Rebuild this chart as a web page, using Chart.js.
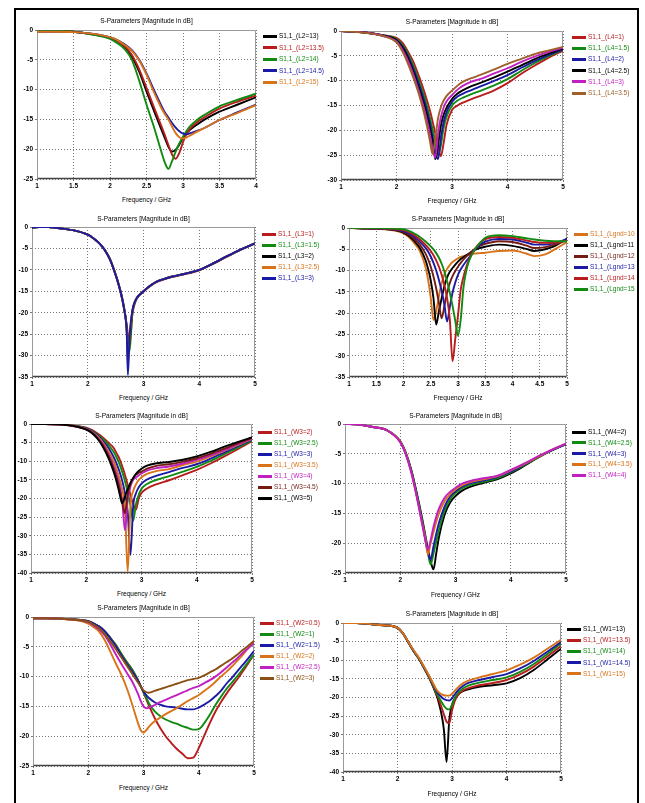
<!DOCTYPE html>
<html><head><meta charset="utf-8">
<script src="https://cdn.jsdelivr.net/npm/chart.js@4.4.1/dist/chart.umd.min.js"></script>
<style>
html,body{margin:0;padding:0;background:#fff;}
body{width:645px;height:803px;position:relative;overflow:hidden;font-family:'Liberation Sans',Arial,sans-serif;}
#frame{position:absolute;left:14px;top:8px;width:621px;height:800px;border:2px solid #000;}
canvas{position:absolute;}
.t{position:absolute;white-space:nowrap;transform:translate(-50%,-50%);font-size:6.5px;color:#000;}
.lg{position:absolute;white-space:nowrap;font-size:6.5px;line-height:8px;transform:translateY(-50%);display:flex;align-items:center;}
.lg i{display:inline-block;width:14px;height:3px;margin-right:2px;}
</style></head><body>
<div id="frame"></div>
<script>
// ---------- Panel 1 : L2 ----------
const f_L2 = [1,1.25,1.5,1.75,2,2.1,2.2,2.3,2.4,2.5,2.6,2.7,2.75,2.8,2.85,2.9,2.95,3,3.05,3.1,3.2,3.3,3.5,3.75,4];
const L2_13   = [-0.05,-0.15,-0.3,-0.7,-1.3,-1.9,-2.8,-4.5,-7.0,-10.3,-13.5,-16.6,-18.1,-19.6,-20.4,-20.1,-19.2,-18.1,-17.3,-16.7,-15.8,-15.0,-13.7,-12.5,-11.3];
const L2_13_5 = [-0.05,-0.15,-0.3,-0.7,-1.3,-1.9,-2.7,-4.2,-6.6,-9.7,-12.9,-16.0,-17.6,-19.3,-20.9,-21.6,-20.6,-18.8,-17.4,-16.5,-15.4,-14.6,-13.2,-12.0,-11.0];
const L2_14   = [-0.05,-0.15,-0.3,-0.75,-1.5,-2.2,-3.2,-5.0,-8.5,-12.5,-16.2,-20.3,-22.2,-23.3,-22.0,-20.4,-19.0,-17.9,-16.9,-16.1,-15.0,-14.2,-12.8,-11.7,-10.7];
const L2_14_5 = [-0.3,-0.3,-0.35,-0.6,-1.2,-1.7,-2.4,-3.4,-5.0,-7.3,-10.0,-12.6,-13.8,-14.7,-15.6,-16.4,-17.0,-17.4,-17.5,-17.3,-16.9,-16.4,-15.1,-13.8,-12.5];
const L2_15   = [-0.3,-0.3,-0.35,-0.6,-1.2,-1.7,-2.5,-3.5,-5.1,-7.5,-10.4,-13.0,-14.1,-15.0,-16.2,-17.3,-18.0,-18.2,-18.0,-17.7,-17.0,-16.4,-15.1,-13.9,-12.6];
const lab_L2 = ['S1,1_(L2=13)','S1,1_(L2=13.5)','S1,1_(L2=14)','S1,1_(L2=14.5)','S1,1_(L2=15)'];

// ---------- Panel 2 : L4 ----------
const f_L4 = [1,1.25,1.5,1.75,2,2.1,2.2,2.3,2.4,2.5,2.55,2.6,2.65,2.7,2.75,2.8,2.85,2.9,3,3.1,3.2,3.35,3.5,3.75,4,4.25,4.5,4.75,5];
const L4_1   = [0,-0.15,-0.4,-0.85,-1.4,-2.3,-4.0,-6.1,-9.0,-12.2,-14.0,-15.9,-18.2,-20.6,-23.2,-25.2,-22.5,-19.0,-15.9,-15.0,-14.4,-13.7,-13.1,-12.0,-10.5,-8.6,-6.9,-5.3,-4.0];
const L4_1_5 = [0,-0.15,-0.4,-0.85,-1.6,-2.7,-4.5,-6.9,-9.9,-13.2,-15.2,-17.4,-19.8,-22.4,-25.0,-23.0,-19.5,-17.3,-15.0,-14.0,-13.4,-12.7,-12.1,-11.0,-9.7,-8.0,-6.4,-5.0,-3.8];
const L4_2   = [0,-0.15,-0.4,-0.9,-1.8,-3.0,-4.9,-7.5,-10.6,-14.1,-16.1,-18.4,-21.3,-24.3,-25.8,-21.5,-18.3,-16.4,-14.3,-13.2,-12.6,-11.9,-11.2,-10.1,-8.9,-7.4,-6.0,-4.8,-3.7];
const L4_2_5 = [0,-0.15,-0.4,-0.9,-1.9,-3.2,-5.3,-8.0,-11.3,-14.9,-17.0,-19.4,-22.2,-25.8,-22.8,-19.0,-16.8,-15.5,-13.7,-12.6,-11.9,-11.1,-10.5,-9.4,-8.2,-6.9,-5.6,-4.5,-3.5];
const L4_3   = [0,-0.15,-0.4,-0.95,-2.1,-3.6,-5.8,-8.6,-12.0,-15.8,-18.1,-20.7,-23.6,-25.5,-20.5,-17.3,-15.4,-14.2,-12.9,-11.8,-11.0,-10.2,-9.7,-8.6,-7.5,-6.2,-5.1,-4.2,-3.4];
const L4_3_5 = [0,-0.15,-0.45,-1.0,-2.3,-4.0,-6.4,-9.3,-12.6,-16.7,-19.2,-22.0,-24.8,-21.5,-17.5,-15.3,-14.0,-13.1,-12.0,-11.0,-10.2,-9.5,-8.9,-7.8,-6.6,-5.6,-4.6,-3.9,-3.2];
const lab_L4 = ['S1,1_(L4=1)','S1,1_(L4=1.5)','S1,1_(L4=2)','S1,1_(L4=2.5)','S1,1_(L4=3)','S1,1_(L4=3.5)'];

// ---------- Panel 3 : L3 ----------
const f_L3 = [1,1.25,1.5,1.75,2,2.1,2.2,2.3,2.4,2.5,2.55,2.6,2.65,2.7,2.72,2.75,2.8,2.85,2.9,3,3.1,3.2,3.35,3.5,3.75,4,4.25,4.5,4.75,5];
const L3_1   = [-0.1,0.05,-0.3,-0.8,-1.8,-2.6,-3.7,-5.2,-7.5,-11.0,-13.1,-15.5,-18.6,-23.0,-25.0,-27.2,-20.5,-17.6,-16.3,-15.1,-14.0,-13.1,-12.3,-11.7,-11.0,-10.1,-8.6,-6.9,-5.3,-3.9];
const L3_1_5 = [-0.1,0.05,-0.3,-0.8,-1.8,-2.6,-3.7,-5.25,-7.55,-11.1,-13.2,-15.6,-18.8,-23.5,-27.5,-29.0,-20.0,-17.4,-16.2,-15.0,-13.9,-13.0,-12.2,-11.6,-10.9,-10.0,-8.5,-6.8,-5.2,-3.8];
const L3_2   = [-0.1,0.05,-0.3,-0.8,-1.8,-2.6,-3.7,-5.3,-7.6,-11.2,-13.3,-15.8,-19.0,-24.0,-30.0,-26.5,-19.7,-17.3,-16.2,-15.0,-13.9,-13.0,-12.2,-11.6,-10.9,-10.0,-8.5,-6.8,-5.2,-3.8];
const L3_2_5 = [-0.1,0.05,-0.3,-0.8,-1.8,-2.6,-3.7,-5.3,-7.6,-11.2,-13.3,-15.8,-19.0,-24.5,-32.0,-26.0,-19.6,-17.3,-16.2,-15.0,-13.9,-13.0,-12.2,-11.6,-10.9,-10.0,-8.5,-6.8,-5.2,-3.8];
const L3_3   = [-0.1,0.05,-0.3,-0.8,-1.8,-2.6,-3.7,-5.3,-7.6,-11.2,-13.3,-15.8,-19.0,-25.0,-34.5,-25.5,-19.5,-17.3,-16.2,-15.0,-13.9,-13.0,-12.2,-11.6,-10.9,-10.0,-8.5,-6.8,-5.2,-3.8];
const lab_L3 = ['S1,1_(L3=1)','S1,1_(L3=1.5)','S1,1_(L3=2)','S1,1_(L3=2.5)','S1,1_(L3=3)'];

// ---------- Panel 4 : Lgnd ----------
const f_Lg = [1,1.25,1.5,1.75,1.9,2,2.1,2.2,2.3,2.4,2.45,2.5,2.55,2.6,2.65,2.7,2.75,2.8,2.85,2.9,2.95,3,3.05,3.1,3.15,3.2,3.3,3.4,3.5,3.75,4,4.25,4.4,4.6,4.75,5];
const Lg_10 = [0,-0.1,-0.2,-0.4,-0.8,-1.3,-2.2,-3.6,-5.4,-9.0,-12.0,-16.5,-21.6,-19.5,-16.0,-13.0,-10.9,-9.6,-8.7,-8.0,-7.5,-7.1,-6.8,-6.6,-6.4,-6.3,-6.0,-5.9,-5.8,-5.4,-5.3,-6.0,-6.6,-6.2,-5.2,-3.3];
const Lg_11 = [0,-0.1,-0.15,-0.35,-0.65,-1.1,-1.9,-3.1,-4.7,-7.4,-9.5,-12.3,-16.5,-22.7,-19.5,-16.5,-13.6,-11.6,-10.3,-9.4,-8.6,-7.9,-7.3,-6.8,-6.4,-6.0,-5.2,-4.7,-4.4,-3.9,-4.2,-4.9,-5.4,-5.0,-4.4,-2.5];
const Lg_12 = [0,-0.05,-0.15,-0.3,-0.55,-0.9,-1.6,-2.6,-3.9,-5.9,-7.3,-9.1,-11.4,-14.2,-17.6,-21.2,-18.3,-15.2,-12.9,-11.3,-10.1,-9.1,-8.2,-7.4,-6.7,-6.1,-5.0,-4.2,-3.7,-3.1,-3.3,-4.1,-4.7,-4.5,-4.0,-2.9];
const Lg_13 = [0,-0.05,-0.1,-0.25,-0.45,-0.7,-1.3,-2.1,-3.2,-4.6,-5.5,-6.7,-8.2,-10.0,-12.2,-14.8,-18.0,-22.0,-18.5,-15.2,-12.8,-11.0,-9.7,-8.7,-7.8,-7.0,-5.2,-4.0,-3.2,-2.6,-2.7,-3.4,-3.9,-3.9,-3.6,-2.6];
const Lg_14 = [0,0,-0.1,-0.2,-0.35,-0.5,-1.0,-1.7,-2.7,-3.9,-4.6,-5.4,-6.4,-7.6,-9.1,-11.0,-13.4,-16.5,-21.5,-31.3,-26.0,-20.5,-14.5,-11.5,-9.2,-7.5,-5.1,-3.5,-2.6,-2.1,-2.3,-2.9,-3.3,-3.5,-3.5,-2.9];
const Lg_15 = [0,0.1,0,-0.1,-0.2,-0.3,-0.7,-1.3,-2.1,-3.1,-3.7,-4.3,-5.0,-5.9,-7.0,-8.4,-10.2,-12.5,-15.2,-18.3,-21.8,-25.3,-21.5,-14.0,-10.2,-7.8,-5.2,-3.6,-2.3,-1.7,-1.9,-2.4,-2.7,-3.0,-3.1,-3.1];
const lab_Lg = ['S1,1_(Lgnd=10','S1,1_(Lgnd=11','S1,1_(Lgnd=12','S1,1_(Lgnd=13','S1,1_(Lgnd=14','S1,1_(Lgnd=15'];

// ---------- Panel 5 : W3 ----------
const f_W3 = [1,1.25,1.5,1.75,2,2.1,2.2,2.3,2.4,2.5,2.55,2.6,2.65,2.7,2.75,2.8,2.85,2.9,2.95,3,3.1,3.25,3.5,3.75,4,4.25,4.5,4.75,5];
const W3_2   = [0,0,-0.1,-0.4,-1.0,-1.6,-2.5,-3.6,-5.0,-6.5,-7.9,-9.3,-11.3,-13.6,-16.3,-19.0,-21.5,-23.0,-20.0,-18.5,-17.3,-16.3,-15.1,-13.7,-12.3,-10.6,-8.7,-6.7,-4.6];
const W3_2_5 = [0,0,-0.1,-0.4,-1.1,-1.8,-2.8,-4.0,-5.6,-7.6,-9.0,-10.7,-12.8,-15.3,-18.3,-21.8,-26.0,-21.5,-19.0,-17.4,-16.1,-15.1,-14.0,-12.8,-11.5,-9.9,-8.1,-6.3,-4.4];
const W3_3   = [0,0,-0.1,-0.45,-1.2,-1.9,-3.0,-4.5,-6.4,-9.0,-10.7,-12.7,-15.2,-18.5,-23.5,-35.2,-22.0,-18.6,-17.0,-16.0,-14.9,-14.0,-12.9,-11.8,-10.8,-9.3,-7.6,-5.9,-4.2];
const W3_3_5 = [0,0,-0.1,-0.45,-1.3,-2.1,-3.3,-5.0,-7.3,-10.2,-12.2,-14.6,-17.6,-22.3,-39.6,-22.0,-18.0,-16.2,-15.0,-14.3,-13.4,-12.7,-12.1,-11.0,-10.1,-8.7,-7.2,-5.6,-4.0];
const W3_4   = [0,0,-0.1,-0.5,-1.4,-2.2,-3.5,-5.4,-8.0,-11.4,-13.6,-16.3,-20.5,-28.5,-20.5,-16.8,-15.0,-14.4,-13.8,-13.3,-12.5,-11.9,-11.4,-10.6,-9.6,-8.4,-7.0,-5.4,-3.9];
const W3_4_5 = [0,0,-0.1,-0.5,-1.45,-2.3,-3.7,-5.7,-8.5,-12.2,-14.5,-17.3,-20.8,-24.0,-19.0,-16.0,-14.5,-13.6,-13.1,-12.8,-12.0,-11.3,-10.8,-10.1,-9.2,-8.0,-6.6,-5.1,-3.7];
const W3_5   = [0,0,-0.1,-0.5,-1.5,-2.4,-3.9,-6.1,-9.1,-13.0,-15.5,-18.5,-21.3,-19.5,-17.5,-15.8,-14.5,-13.4,-12.6,-12.0,-11.2,-10.6,-10.2,-9.6,-8.7,-7.5,-6.1,-4.8,-3.6];
const lab_W3 = ['S1,1_(W3=2)','S1,1_(W3=2.5)','S1,1_(W3=3)','S1,1_(W3=3.5)','S1,1_(W3=4)','S1,1_(W3=4.5)','S1,1_(W3=5)'];

// ---------- Panel 6 : W4 ----------
const f_W4 = [1,1.25,1.5,1.75,2,2.1,2.2,2.3,2.4,2.45,2.5,2.55,2.6,2.65,2.7,2.8,2.9,3,3.1,3.25,3.5,3.75,4,4.25,4.5,4.75,5];
const W4_2   = [0,-0.1,-0.5,-1.0,-2.9,-4.8,-7.7,-11.6,-16.0,-18.5,-20.9,-23.0,-24.4,-21.8,-19.0,-15.3,-13.2,-12.1,-11.3,-10.6,-9.9,-9.3,-8.3,-7.0,-5.6,-4.4,-3.4];
const W4_2_5 = [0,-0.1,-0.5,-1.0,-2.95,-4.9,-7.8,-11.8,-16.3,-18.8,-21.5,-23.6,-21.8,-19.8,-17.8,-14.6,-12.7,-11.6,-10.9,-10.3,-9.7,-9.1,-8.1,-6.9,-5.6,-4.4,-3.4];
const W4_3   = [0,-0.1,-0.5,-1.0,-3.0,-5.0,-7.9,-12.0,-16.6,-19.2,-21.6,-22.8,-20.6,-18.5,-16.6,-13.9,-12.2,-11.3,-10.6,-10.0,-9.5,-8.9,-8.0,-6.8,-5.5,-4.4,-3.4];
const W4_3_5 = [0,-0.1,-0.5,-1.0,-3.0,-5.0,-8.1,-12.2,-16.8,-19.0,-21.9,-20.0,-18.2,-16.5,-15.0,-13.0,-11.8,-11.0,-10.4,-9.8,-9.3,-8.8,-7.8,-6.7,-5.5,-4.3,-3.3];
const W4_4   = [0,-0.1,-0.5,-1.0,-3.05,-5.1,-8.2,-12.3,-17.0,-19.3,-21.1,-19.5,-17.3,-15.6,-14.2,-12.4,-11.4,-10.7,-10.1,-9.6,-9.1,-8.7,-7.7,-6.6,-5.4,-4.3,-3.3];
const lab_W4 = ['S1,1_(W4=2)','S1,1_(W4=2.5)','S1,1_(W4=3)','S1,1_(W4=3.5)','S1,1_(W4=4)'];

// ---------- Panel 7 : W2 ----------
const f_W2 = [1,1.25,1.5,1.75,2,2.1,2.2,2.3,2.4,2.5,2.6,2.7,2.8,2.9,2.95,3,3.05,3.1,3.2,3.3,3.4,3.5,3.6,3.7,3.8,3.9,4,4.1,4.2,4.3,4.4,4.5,4.6,4.7,4.8,4.9,5];
const W2_0_5 = [-0.2,-0.2,-0.3,-0.4,-0.7,-1.1,-1.6,-2.4,-3.5,-4.7,-6.2,-7.6,-8.9,-10.6,-11.6,-12.7,-13.8,-14.9,-16.9,-18.6,-20.0,-21.1,-22.1,-22.9,-23.7,-23.6,-22.0,-19.9,-17.8,-15.9,-14.3,-12.9,-11.6,-10.4,-9.1,-7.7,-6.3];
const W2_1   = [-0.2,-0.2,-0.3,-0.4,-0.7,-1.1,-1.6,-2.4,-3.5,-4.7,-6.2,-7.6,-8.9,-10.6,-11.6,-12.6,-13.5,-14.5,-15.8,-16.6,-17.2,-17.6,-17.9,-18.3,-18.6,-18.9,-18.8,-17.8,-16.4,-14.8,-13.4,-12.1,-11.0,-9.9,-8.7,-7.5,-6.3];
const W2_1_5 = [-0.2,-0.2,-0.3,-0.4,-0.7,-1.1,-1.6,-2.4,-3.6,-4.9,-6.4,-7.9,-9.2,-10.7,-11.6,-12.5,-13.1,-13.6,-14.3,-14.7,-15.0,-15.1,-15.2,-15.4,-15.5,-15.5,-15.2,-14.7,-14.1,-13.3,-12.4,-11.2,-10.2,-9.1,-8.0,-6.9,-5.7];
const W2_2   = [-0.2,-0.2,-0.3,-0.5,-1.1,-1.7,-2.5,-3.9,-5.8,-7.8,-9.7,-12.0,-14.8,-17.8,-19.0,-19.4,-19.0,-18.4,-17.5,-16.9,-16.3,-15.8,-15.3,-14.7,-14.1,-13.6,-13.1,-12.4,-11.7,-10.9,-10.0,-9.2,-8.3,-7.3,-6.3,-5.2,-4.2];
const W2_2_5 = [-0.2,-0.2,-0.3,-0.45,-0.9,-1.4,-2.1,-3.1,-4.6,-6.3,-7.9,-9.4,-10.9,-12.9,-14.1,-15.0,-15.3,-15.2,-14.8,-14.3,-13.9,-13.5,-13.1,-12.7,-12.3,-11.9,-11.6,-11.1,-10.6,-10.0,-9.3,-8.5,-7.7,-6.9,-6.0,-5.2,-4.4];
const W2_3   = [-0.2,-0.2,-0.3,-0.45,-0.8,-1.3,-1.9,-2.9,-4.1,-5.4,-6.8,-8.2,-9.6,-11.0,-11.7,-12.3,-12.6,-12.7,-12.4,-12.1,-11.8,-11.5,-11.2,-10.9,-10.6,-10.4,-10.2,-9.8,-9.3,-8.8,-8.2,-7.6,-7.0,-6.3,-5.5,-4.8,-4.0];
const lab_W2 = ['S1,1_(W2=0.5)','S1,1_(W2=1)','S1,1_(W2=1.5)','S1,1_(W2=2)','S1,1_(W2=2.5)','S1,1_(W2=3)'];

// ---------- Panel 8 : W1 ----------
const f_W1 = [1,1.25,1.5,1.75,2,2.1,2.2,2.3,2.4,2.5,2.6,2.7,2.75,2.8,2.85,2.9,2.95,3,3.05,3.1,3.2,3.3,3.5,3.75,4,4.25,4.5,4.75,5];
const W1_13   = [0,0,-0.3,-0.6,-1.3,-2.8,-5.3,-7.7,-9.8,-12.5,-15.3,-18.8,-21.0,-24.0,-28.5,-37.3,-26.0,-22.0,-20.3,-19.3,-18.3,-17.8,-17.1,-16.7,-16.2,-14.8,-12.6,-9.8,-6.9];
const W1_13_5 = [0,0,-0.3,-0.6,-1.3,-2.8,-5.2,-7.6,-9.7,-12.4,-15.2,-18.5,-20.3,-22.3,-24.5,-26.5,-26.9,-23.5,-21.0,-19.6,-18.1,-17.5,-16.7,-16.1,-15.3,-13.8,-11.7,-9.0,-6.2];
const W1_14   = [0,0,-0.3,-0.6,-1.3,-2.8,-5.2,-7.6,-9.7,-12.3,-15.0,-18.2,-19.7,-21.0,-22.2,-23.0,-23.2,-22.0,-20.3,-19.0,-17.6,-16.8,-16.0,-15.3,-14.6,-13.1,-11.0,-8.3,-5.5];
const W1_14_5 = [0,0,-0.3,-0.6,-1.3,-2.8,-5.1,-7.5,-9.6,-12.2,-14.8,-17.8,-19.0,-19.8,-20.4,-20.7,-20.8,-20.2,-19.2,-18.2,-16.9,-16.1,-15.3,-14.5,-13.7,-12.2,-10.2,-7.7,-5.1];
const W1_15   = [0,0,-0.3,-0.6,-1.3,-2.8,-5.1,-7.4,-9.5,-12.1,-14.7,-17.5,-18.5,-19.1,-19.4,-19.5,-19.5,-19.0,-18.2,-17.4,-16.2,-15.5,-14.6,-13.7,-12.7,-11.2,-9.3,-6.9,-4.5];
const lab_W1 = ['S1,1_(W1=13)','S1,1_(W1=13.5)','S1,1_(W1=14)','S1,1_(W1=14.5)','S1,1_(W1=15)'];

// ---------- colours ----------
const C = {black:'#000000', red:'#b81c1c', green:'#128a12', blue:'#1a1aa6', orange:'#d9731a',
  magenta:'#c21fc2', brown:'#a0602a', maroon:'#741c14', brown2:'#8a5014'};

const FONT = "'Liberation Sans', Arial, sans-serif";
const TITLE = 'S-Parameters [Magnitude in dB]';
const XLAB = 'Frequency / GHz';

const framePlugin = {
  id:'plotframe',
  beforeDatasetsDraw(c){
    const a=c.chartArea, x=c.ctx;
    const l=Math.round(a.left)+0.5, t=Math.round(a.top)+0.5, r=Math.round(a.right)-0.5, b=Math.round(a.bottom)-0.5;
    x.save();
    x.strokeStyle='#9a9a9a'; x.lineWidth=1;
    x.beginPath(); x.moveTo(l,b); x.lineTo(l,t); x.lineTo(r,t); x.lineTo(r,b); x.stroke();
    x.strokeStyle='#444'; x.lineWidth=1.4;
    x.beginPath(); x.moveTo(l,b); x.lineTo(r,b); x.stroke();
    x.restore();
  }
};

function addText(cls, x, y, txt){
  const d=document.createElement('div'); d.className=cls; d.style.left=x+'px'; d.style.top=y+'px'; d.textContent=txt;
  document.body.appendChild(d);
}

function panel(p){
  const padL=30, padT=6, padR=8, padB=14;
  const W=p.R-p.L, H=p.B-p.T;
  const n=p.series.length;
  const cv=document.createElement('canvas');
  cv.width=W+padL+padR; cv.height=H+padT+padB;
  cv.style.left=(p.L-padL)+'px'; cv.style.top=(p.T-padT)+'px';
  cv.style.width=cv.width+'px'; cv.style.height=cv.height+'px';
  document.body.appendChild(cv);
  const tickFont={family:FONT,size:6.5,weight:'bold'};
  new Chart(cv,{
    type:'line',
    data:{datasets:p.series.map((s,i)=>({
      label:p.labels[i],
      data:p.f.map((x,j)=>({x:x,y:s[j]})),
      borderColor:p.colors[i], backgroundColor:p.colors[i], order:n-i,
      borderWidth:1.9, pointRadius:0, cubicInterpolationMode:'monotone', fill:false
    }))},
    options:{
      responsive:false, animation:false, devicePixelRatio:1,
      layout:{padding:{left:0,top:padT,right:padR,bottom:0}},
      plugins:{legend:{display:false},tooltip:{enabled:false},title:{display:false}},
      scales:{
        x:{type:'linear',min:p.x0,max:p.x1,
          afterFit:s=>{s.height=padB;},
          ticks:{stepSize:p.xs,font:tickFont,color:'#000',padding:1,maxRotation:0,autoSkip:false,
            callback:v=>String(Number(v.toFixed(2)))},
          grid:{color:'#555',lineWidth:0.8,tickLength:2,tickColor:'#555',tickBorderDash:[]},
          border:{display:false,dash:[1,2]}},
        y:{type:'linear',min:p.y0,max:0,
          afterFit:s=>{s.width=padL;},
          ticks:{stepSize:5,font:tickFont,color:'#000',padding:2,autoSkip:false,callback:v=>String(v)},
          grid:{color:'#555',lineWidth:0.8,tickLength:2,tickColor:'#555',tickBorderDash:[]},
          border:{display:false,dash:[1,2]}}
      }
    },
    plugins:[framePlugin]
  });
  const cx=(p.L+p.R)/2;
  addText('t',cx,p.ty,TITLE);
  addText('t',cx,p.xy,XLAB);
  p.labels.forEach((lb,i)=>{
    const d=document.createElement('div'); d.className='lg';
    d.style.left=p.lx+'px'; d.style.top=(p.ly+i*p.ld)+'px';
    const ln=document.createElement('i'); ln.style.background=p.colors[i];
    const sp=document.createElement('span'); sp.style.color=p.colors[i]; sp.textContent=lb;
    d.appendChild(ln); d.appendChild(sp); document.body.appendChild(d);
  });
}

panel({L:37,R:256,T:30,B:179,x0:1,x1:4,xs:0.5,y0:-25,f:f_L2,
  series:[L2_13,L2_13_5,L2_14,L2_14_5,L2_15],labels:lab_L2,
  colors:[C.black,C.red,C.green,C.blue,C.orange],ty:20,xy:199,lx:263,ly:36,ld:11.5});
panel({L:341,R:563,T:31,B:180,x0:1,x1:5,xs:1,y0:-30,f:f_L4,
  series:[L4_1,L4_1_5,L4_2,L4_2_5,L4_3,L4_3_5],labels:lab_L4,
  colors:[C.red,C.green,C.blue,C.black,C.magenta,C.brown],ty:21,xy:200,lx:572,ly:37,ld:11.2});
panel({L:32,R:255,T:227,B:377,x0:1,x1:5,xs:1,y0:-35,f:f_L3,
  series:[L3_1,L3_1_5,L3_2,L3_2_5,L3_3],labels:lab_L3,
  colors:[C.red,C.green,C.black,C.orange,C.blue],ty:218,xy:397,lx:262,ly:234,ld:11});
panel({L:349,R:567,T:228,B:377,x0:1,x1:5,xs:0.5,y0:-35,f:f_Lg,
  series:[Lg_10,Lg_11,Lg_12,Lg_13,Lg_14,Lg_15],labels:lab_Lg,
  colors:[C.orange,C.black,C.maroon,C.blue,C.red,C.green],ty:218,xy:397,lx:574,ly:234,ld:11});
panel({L:31,R:252,T:424,B:573,x0:1,x1:5,xs:1,y0:-40,f:f_W3,
  series:[W3_2,W3_2_5,W3_3,W3_3_5,W3_4,W3_4_5,W3_5],labels:lab_W3,
  colors:[C.red,C.green,C.blue,C.orange,C.magenta,C.maroon,C.black],ty:415,xy:593,lx:258,ly:432,ld:11});
panel({L:345,R:566,T:424,B:573,x0:1,x1:5,xs:1,y0:-25,f:f_W4,
  series:[W4_2,W4_2_5,W4_3,W4_3_5,W4_4],labels:lab_W4,
  colors:[C.black,C.green,C.blue,C.orange,C.magenta],ty:415,xy:594,lx:572,ly:432,ld:10.8});
panel({L:33,R:254,T:617,B:766,x0:1,x1:5,xs:1,y0:-25,f:f_W2,
  series:[W2_0_5,W2_1,W2_1_5,W2_2,W2_2_5,W2_3],labels:lab_W2,
  colors:[C.red,C.green,C.blue,C.orange,C.magenta,C.brown2],ty:607,xy:787,lx:260,ly:623,ld:11});
panel({L:343,R:561,T:623,B:772,x0:1,x1:5,xs:1,y0:-40,f:f_W1,
  series:[W1_13,W1_13_5,W1_14,W1_14_5,W1_15],labels:lab_W1,
  colors:[C.black,C.red,C.green,C.blue,C.orange],ty:613,xy:793,lx:567,ly:629,ld:11.2});
</script>
</body></html>
